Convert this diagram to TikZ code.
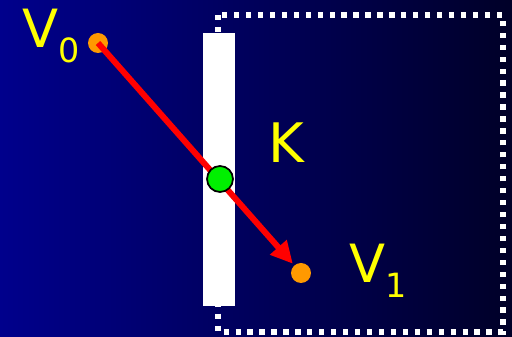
\documentclass[tikz,border=0pt]{standalone}
\usepackage{fontspec}
\setmainfont{DejaVu Sans}
\usetikzlibrary{arrows.meta}

\definecolor{bgleft}{RGB}{0,0,140}
\definecolor{bgright}{RGB}{0,0,40}
\definecolor{dotorange}{RGB}{255,153,0}
\definecolor{labelyellow}{RGB}{255,255,0}
\definecolor{hitgreen}{RGB}{0,240,0}

\newcommand{\vlabel}[2]{{\fontsize{30}{30}\selectfont #1}\raisebox{-8pt}{\fontsize{19}{20}\selectfont #2}}

\begin{document}
\begin{tikzpicture}[
    x=0.02cm, y=-0.02cm,
    vertex/.style={circle, fill=dotorange, inner sep=0pt, minimum size=0.4cm},
    tag/.style={text=labelyellow, inner sep=0pt, anchor=base west},
    arrow/.style={-{Triangle[length=0.44cm,width=0.42cm]}, red, line width=0.12cm}
]
% Background
\shade[left color=bgleft, right color=bgright] (0,0) rectangle (512,337);

% Region K
\draw[white, line width=0.11cm, dash pattern=on 3pt off 3.8pt] (218,15) rectangle (503,332);

% Wall
\fill[white] (203,33) rectangle (235,306);

% Points
\node[vertex] (v0) at (98,43) {};
\node[vertex] (v1) at (301,273) {};

% Segment
\draw[arrow, shorten >=0.04cm] (v0.center) -- (v1);

% Crossing point
\node[circle, draw=black, fill=hitgreen, line width=1pt, inner sep=0pt, minimum size=0.52cm] (hit) at (220,179) {};

% Labels
\node[tag] (v0lbl) at (22,48) {\vlabel{V}{0}};
\node[tag] (klbl) at (268,163) {\fontsize{31}{31}\selectfont K};
\node[tag] (v1lbl) at (349,283) {\vlabel{V}{1}};

\end{tikzpicture}
\end{document}
